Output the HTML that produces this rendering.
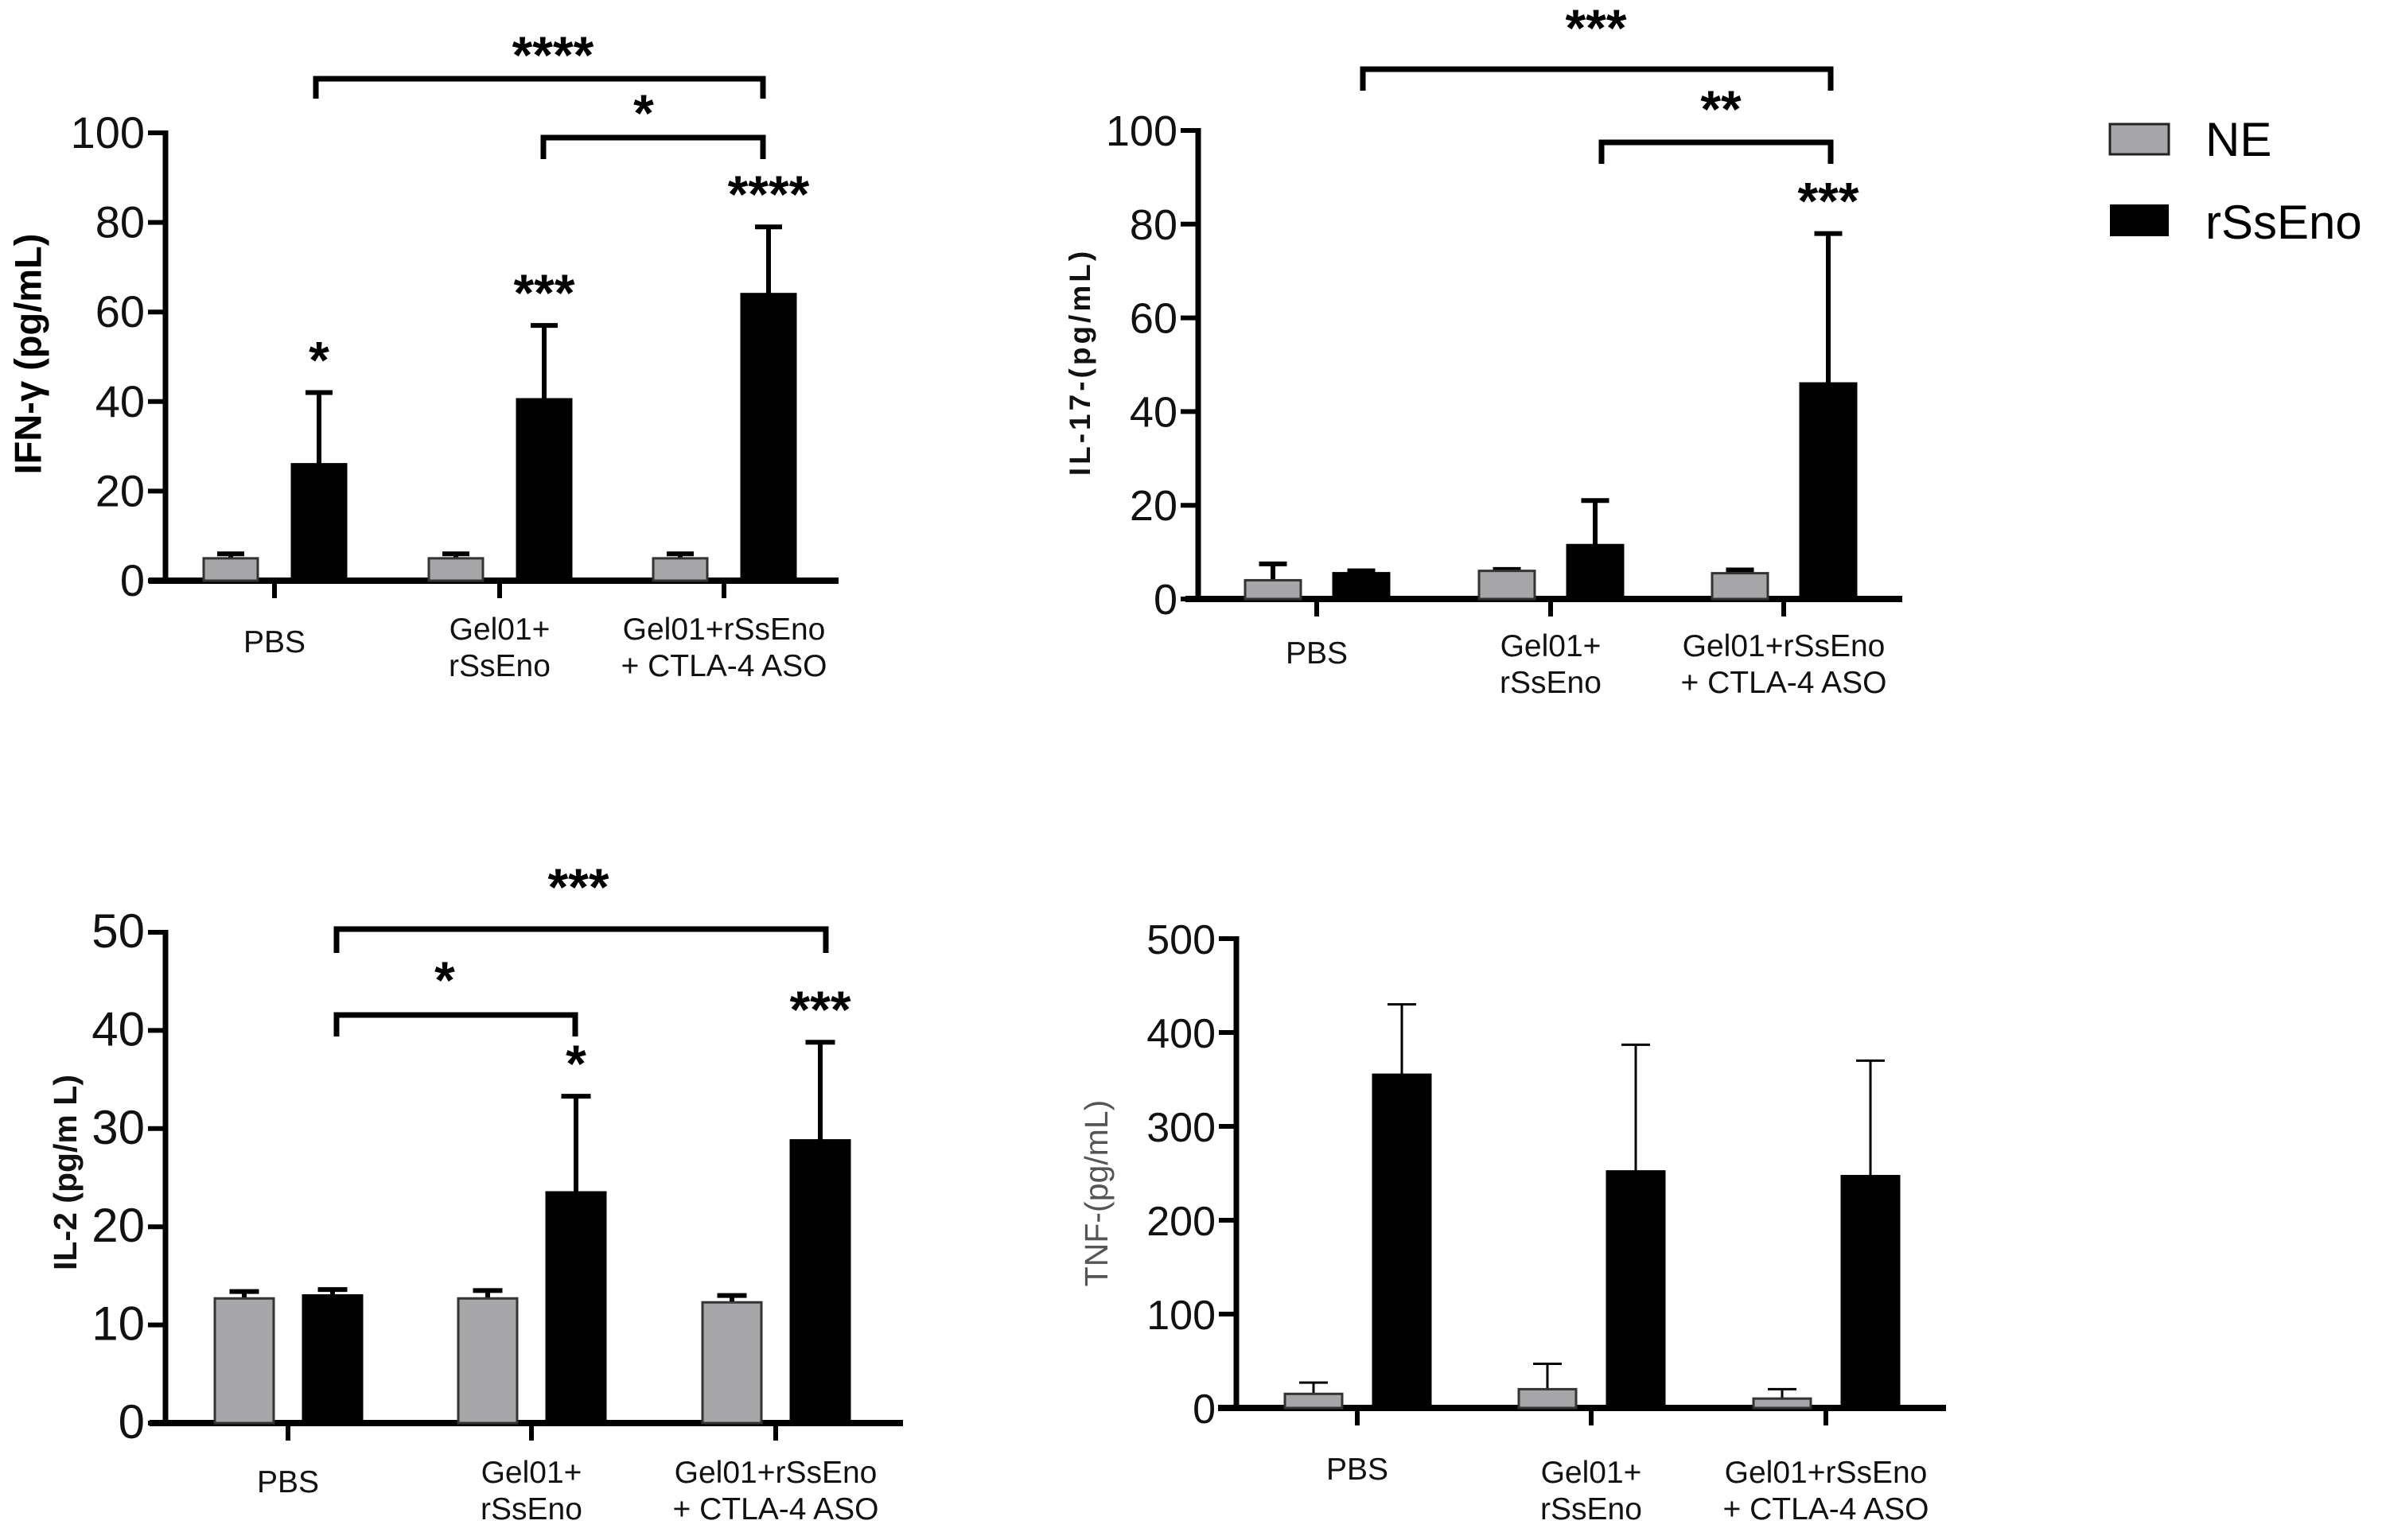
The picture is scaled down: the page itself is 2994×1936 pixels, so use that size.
<!DOCTYPE html>
<html><head><meta charset="utf-8"><style>
html,body{margin:0;padding:0;background:#fff;}
svg{display:block;font-family:"Liberation Sans",Arial,sans-serif;}
</style></head><body>
<svg id="fig" width="2994" height="1936" viewBox="0 0 2994 1936" xmlns="http://www.w3.org/2000/svg">
<g>
<rect x="2652" y="156" width="74" height="38" fill="#a6a6a8" stroke="#222" stroke-width="3"/>
<text x="2772" y="196" font-size="60">NE</text>
<rect x="2652" y="257" width="74" height="40" fill="#000"/>
<text x="2772" y="300" font-size="60">rSsEno</text>
</g>
</svg>
<script>
// Shared categories
const categories = [["PBS"], ["Gel01+", "rSsEno"], ["Gel01+rSsEno", "+ CTLA-4 ASO"]];
// Panel A: IFN-gamma
const ifnNE = [5, 5, 5];
const ifnNEerr = [6, 6, 6];
const ifnRs = [26, 40.5, 64];
const ifnRsErr = [42, 57, 79];
const ifnTicks = [0, 20, 40, 60, 80, 100];
const ifnStars = ["*", "***", "****"];
// Panel B: IL-17
const il17NE = [4, 6, 5.5];
const il17NEerr = [7.5, 6.3, 6.2];
const il17Rs = [5.5, 11.5, 46];
const il17RsErr = [6, 21, 78];
const il17Ticks = [0, 20, 40, 60, 80, 100];
const il17Stars = ["", "", "***"];
// Panel C: IL-2
const il2NE = [12.7, 12.7, 12.3];
const il2NEerr = [13.4, 13.5, 13];
const il2Rs = [13, 23.5, 28.8];
const il2RsErr = [13.6, 33.3, 38.8];
const il2Ticks = [0, 10, 20, 30, 40, 50];
const il2Stars = ["", "*", "***"];
// Panel D: TNF
const tnfNE = [15, 20, 10];
const tnfNEerr = [27, 47, 20];
const tnfRs = [355, 252, 247];
const tnfRsErr = [430, 387, 370];
const tnfTicks = [0, 100, 200, 300, 400, 500];
const tnfStars = ["", "", ""];

const NS = "http://www.w3.org/2000/svg";
const svg = document.getElementById("fig");
function mk(parent, tag, attrs, text) {
  const e = document.createElementNS(NS, tag);
  for (const k in attrs) e.setAttribute(k, attrs[k]);
  if (text !== undefined) e.textContent = text;
  parent.appendChild(e);
  return e;
}

function panel(cfg) {
  const g = mk(svg, "g", {});
  
  
  const y = v => cfg.y0 - (v - cfg.ticks[0]) / (cfg.ticks[cfg.ticks.length - 1] - cfg.ticks[0]) * (cfg.y0 - cfg.yTop);
  const ax = mk(g, "g", {});
  
  
  mk(ax, "line", {x1: cfg.ax, x2: cfg.ax, y1: cfg.yTop - 3, y2: cfg.y0 + 3, stroke: "#000", "stroke-width": 7});
  cfg.ticks.forEach(t => {
    const ty = y(t);
    const tk = mk(ax, "line", {x1: cfg.ax - 22, x2: cfg.ax, y1: ty, y2: ty, stroke: "#000", "stroke-width": 6});
    
    
    const tl = mk(ax, "text", {x: cfg.ax - 26, y: ty + 19, "text-anchor": "end", "font-size": cfg.tickFont, fill: "#111"}, String(t));
    
    
  });
  const xl = mk(g, "line", {x1: cfg.xStart, x2: cfg.xEnd, y1: cfg.y0, y2: cfg.y0, stroke: "#000", "stroke-width": 8});
  
  
  const yt = mk(g, "text", {x: cfg.ylx, y: cfg.yly, "text-anchor": "middle", "font-size": cfg.ylFont, "font-weight": cfg.ylWeight, fill: cfg.ylColor, "dominant-baseline": "middle", transform: `rotate(-90 ${cfg.ylx} ${cfg.yly})`, "letter-spacing": cfg.ylSpacing || 0}, cfg.ylabel);
  
  
  const ew = cfg.thinErr ? 3 : 6;
  categories.forEach((lines, i) => {
    const cx = cfg.cats[i];
    const tk = mk(g, "line", {x1: cx, x2: cx, y1: cfg.y0, y2: cfg.y0 + 22, stroke: "#000", "stroke-width": 6});
    
    
    lines.forEach((ln, j) => {
      const ty = (lines.length === 1 ? cfg.lab1 : cfg.lab2 + j * 46) + 14;
      const t = mk(g, "text", {x: cx, y: ty, "text-anchor": "middle", "font-size": 39, fill: "#111"}, ln);
      
      
    });
    const series = [
      {v: cfg.ne[i], e: cfg.neErr[i], off: -55, fill: "#a6a6a8", nm: "bar-ne"},
      {v: cfg.rs[i], e: cfg.rsErr[i], off: 56, fill: "#000", nm: "bar-rsseno"}
    ];
    series.forEach(s => {
      const bx = cx + s.off;
      const et = y(s.e), bt = y(s.v);
      const el = mk(g, "line", {x1: bx, x2: bx, y1: et, y2: bt, stroke: "#000", "stroke-width": ew});
      
      
      const ec = mk(g, "line", {x1: bx - cfg.bw * 0.25, x2: bx + cfg.bw * 0.25, y1: et, y2: et, stroke: "#000", "stroke-width": ew});
      
      
      const r = mk(g, "rect", {x: bx - cfg.bw / 2, y: bt, width: cfg.bw, height: cfg.y0 - bt, fill: s.fill, stroke: s.fill === "#000" ? "#000" : "#333", "stroke-width": 3});
      
      
    });
    if (cfg.stars[i]) {
      const st = mk(g, "text", {x: cx + 56, y: y(cfg.rsErr[i]) - 18, "text-anchor": "middle", "font-size": 66, "font-weight": "bold"}, cfg.stars[i]);
      
      
    }
  });
  cfg.brackets.forEach(b => {
    const p = mk(g, "path", {d: `M${b.x1},${b.leg} V${b.y} H${b.x2} V${b.leg}`, fill: "none", stroke: "#000", "stroke-width": 7});
    
    
    const t = mk(g, "text", {x: b.tx, y: b.ty, "text-anchor": "middle", "font-size": 66, "font-weight": "bold"}, b.label);
    
    
  });
}

panel({name: "panel-ifn-gamma", ax: 208, y0: 730, yTop: 167, xStart: 187, xEnd: 1054, cats: [345, 628, 910], bw: 68,
  ticks: ifnTicks, ne: ifnNE, neErr: ifnNEerr, rs: ifnRs, rsErr: ifnRsErr, stars: ifnStars, tickFont: 56,
  ylabel: "IFN-γ (pg/mL)", ylx: 39, yly: 445, ylFont: 47, ylWeight: "bold", ylColor: "#000",
  lab1: 806, lab2: 790,
  brackets: [{x1: 397, x2: 959, y: 99, leg: 124, tx: 695, ty: 92, label: "****"},
             {x1: 683, x2: 959, y: 173, leg: 200, tx: 809, ty: 165, label: "*"}]});

panel({name: "panel-il-17", ax: 1506, y0: 753, yTop: 164, xStart: 1490, xEnd: 2391, cats: [1655, 1949, 2242], bw: 70,
  ticks: il17Ticks, ne: il17NE, neErr: il17NEerr, rs: il17Rs, rsErr: il17RsErr, stars: il17Stars, tickFont: 54,
  ylabel: "IL-17-(pg/mL)", ylx: 1360, yly: 455, ylFont: 37, ylWeight: "bold", ylColor: "#111", ylSpacing: 4,
  lab1: 820, lab2: 811,
  brackets: [{x1: 1713, x2: 2301, y: 87, leg: 114, tx: 2006, ty: 58, label: "***"},
             {x1: 2013, x2: 2301, y: 179, leg: 206, tx: 2163, ty: 160, label: "**"}]});

panel({name: "panel-il-2", ax: 208, y0: 1789, yTop: 1172, xStart: 188, xEnd: 1135, cats: [362, 668, 975], bw: 74,
  ticks: il2Ticks, ne: il2NE, neErr: il2NEerr, rs: il2Rs, rsErr: il2RsErr, stars: il2Stars, tickFont: 60,
  ylabel: "IL-2 (pg/m L)", ylx: 85, yly: 1474, ylFont: 41, ylWeight: "bold", ylColor: "#111",
  lab1: 1862, lab2: 1850,
  brackets: [{x1: 423, x2: 1038, y: 1168, leg: 1198, tx: 727, ty: 1138, label: "***"},
             {x1: 423, x2: 723, y: 1276, leg: 1303, tx: 559, ty: 1255, label: "*"}]});

panel({name: "panel-tnf", ax: 1554, y0: 1770, yTop: 1180, xStart: 1531, xEnd: 2446, cats: [1706, 2000, 2295], bw: 72,
  ticks: tnfTicks, ne: tnfNE, neErr: tnfNEerr, rs: tnfRs, rsErr: tnfRsErr, stars: tnfStars, tickFont: 52, thinErr: true,
  ylabel: "TNF-(pg/mL)", ylx: 1381, yly: 1500, ylFont: 41, ylWeight: "normal", ylColor: "#555",
  lab1: 1846, lab2: 1850,
  brackets: []});
</script>
</body></html>
